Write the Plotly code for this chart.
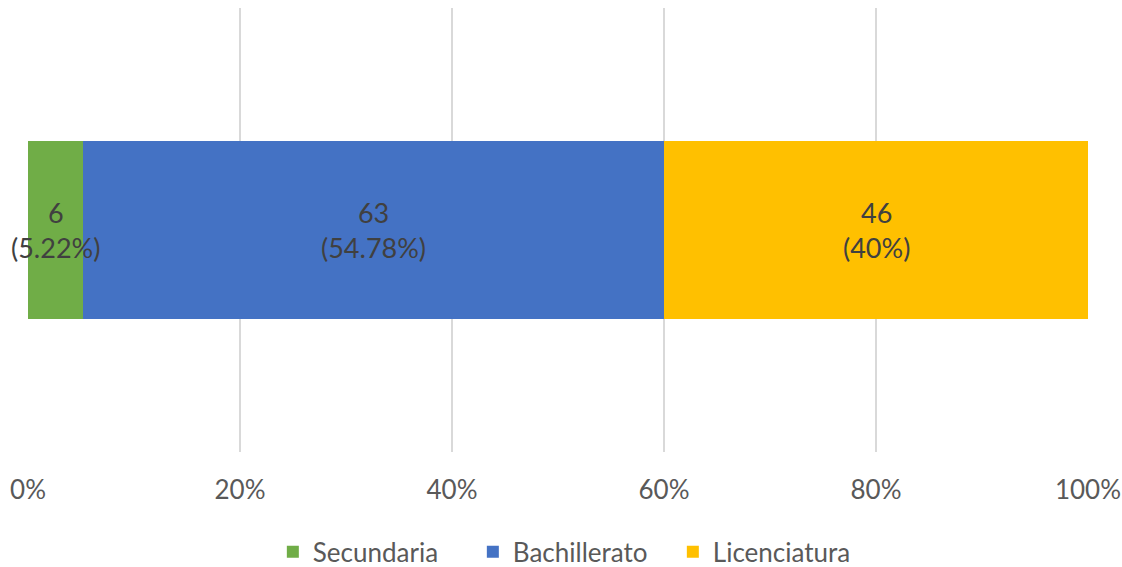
import plotly.graph_objects as go

categories = ["Secundaria", "Bachillerato", "Licenciatura"]
counts = [6, 63, 46]
pct_labels = ["5.22%", "54.78%", "40%"]
colors = ["#70AD47", "#4472C4", "#FFC000"]
tick_vals = [0, 20, 40, 60, 80, 100]
tick_text = ["0%", "20%", "40%", "60%", "80%", "100%"]

total = sum(counts)
shares = [c / total * 100 for c in counts]

FONT = "Lato, sans-serif"

fig = go.Figure()
for name, s, col in zip(categories, shares, colors):
    fig.add_trace(go.Bar(
        y=[""], x=[s], name=name, orientation="h",
        marker=dict(color=col, line=dict(width=0)),
        hoverinfo="skip",
    ))

start = 0
for c, s, lab in zip(counts, shares, pct_labels):
    fig.add_annotation(
        x=start + s / 2, y=0, xref="x", yref="y",
        text=f"{c}<br>({lab})", showarrow=False,
        font=dict(family=FONT, size=27, color="#404040"),
        align="center",
    )
    start += s

fig.update_layout(
    barmode="stack",
    bargap=0.601,
    width=1122, height=567,
    margin=dict(l=28, r=34, t=8, b=115, autoexpand=False),
    paper_bgcolor="white", plot_bgcolor="white",
    font=dict(family=FONT, size=26, color="#595959"),
    showlegend=True,
    legend=dict(orientation="h", x=0.514, xanchor="center", y=-0.225, yanchor="middle",
                font=dict(size=26, color="#595959"), traceorder="normal",
                itemwidth=30, entrywidth=155, entrywidthmode="pixels"),
    xaxis=dict(range=[0, 100], tickvals=tick_vals, ticktext=tick_text,
               showgrid=True, gridcolor="#D9D9D9", gridwidth=2,
               zeroline=False, showline=False, ticks="", ticklabelstandoff=20,
               automargin=False,
               tickfont=dict(size=26, color="#595959")),
    yaxis=dict(showticklabels=False, showgrid=False, zeroline=False,
               range=[-0.5, 0.5], automargin=False),
)

fig.write_html("out.html")
